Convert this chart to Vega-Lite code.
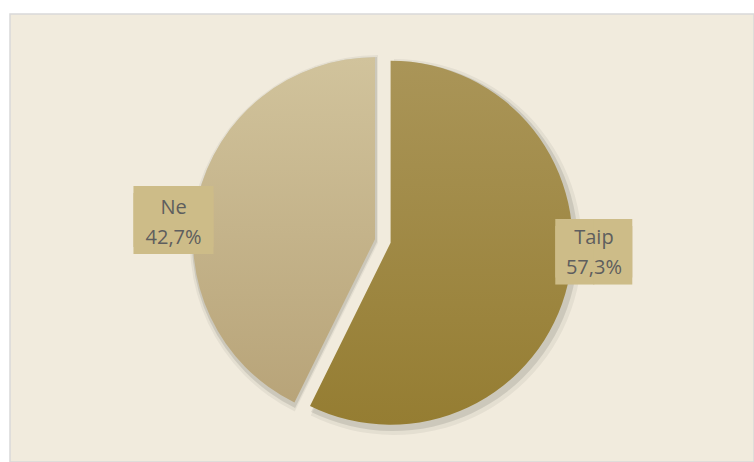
{
  "$schema": "https://vega.github.io/schema/vega-lite/v6.json",
  "width": 744,
  "height": 448,
  "autosize": {"type": "none"},
  "padding": {"left": 10, "top": 14, "right": 0, "bottom": 0},
  "background": "white",
  "view": {"fill": "#F1EBDD", "stroke": "#D9D9D9", "strokeWidth": 1.5},
  "data": {
    "values": [
      {"category": "Taip", "value": 57.3, "label": "Taip\n57,3%"},
      {"category": "Ne", "value": 42.7, "label": "Ne\n42,7%"}
    ]
  },
  "encoding": {
    "theta": {"field": "value", "type": "quantitative", "stack": true},
    "order": {"field": "value", "type": "quantitative", "sort": "descending"}
  },
  "layer": [
    {
      "mark": {"type": "arc", "outerRadius": 188, "xOffset": 12, "yOffset": 9, "fill": "#000000"},
      "encoding": {"opacity": {"condition": {"test": "datum.category === 'Taip'", "value": 0.05}, "value": 0}}
    },
    {
      "mark": {"type": "arc", "outerRadius": 185, "xOffset": 11, "yOffset": 8, "fill": "#000000"},
      "encoding": {"opacity": {"condition": {"test": "datum.category === 'Taip'", "value": 0.1}, "value": 0}}
    },
    {
      "mark": {"type": "arc", "outerRadius": 188, "xOffset": -4, "yOffset": 5, "fill": "#000000"},
      "encoding": {"opacity": {"condition": {"test": "datum.category === 'Ne'", "value": 0.05}, "value": 0}}
    },
    {
      "mark": {"type": "arc", "outerRadius": 185, "xOffset": -5, "yOffset": 4, "fill": "#000000"},
      "encoding": {"opacity": {"condition": {"test": "datum.category === 'Ne'", "value": 0.1}, "value": 0}}
    },
    {
      "mark": {
        "type": "arc", "outerRadius": 182, "xOffset": -7, "yOffset": 1.3,
        "fill": {"gradient": "linear", "x1": 0, "y1": 0, "x2": 0, "y2": 1,
          "stops": [{"offset": 0, "color": "#D1C39C"}, {"offset": 1, "color": "#B8A479"}]}
      },
      "encoding": {"opacity": {"condition": {"test": "datum.category === 'Ne'", "value": 1}, "value": 0}}
    },
    {
      "mark": {
        "type": "arc", "outerRadius": 182, "xOffset": 8.6, "yOffset": 4.7,
        "fill": {"gradient": "linear", "x1": 0, "y1": 0, "x2": 0, "y2": 1,
          "stops": [{"offset": 0, "color": "#AA9558"}, {"offset": 1, "color": "#957D32"}]}
      },
      "encoding": {"opacity": {"condition": {"test": "datum.category === 'Taip'", "value": 1}, "value": 0}}
    },
    {
      "mark": {"type": "text", "radius": 205, "xOffset": 12.3, "yOffset": -34.9, "font": "DejaVu Sans", "fontSize": 49.4, "lineHeight": 7.7, "align": "center", "baseline": "middle", "color": "#CDBC88"},
      "encoding": {
        "text": {"value": ["██", "██"]},
        "opacity": {"condition": {"test": "datum.category === 'Taip'", "value": 1}, "value": 0}
      }
    },
    {
      "mark": {"type": "text", "radius": 205, "xOffset": -8.8, "yOffset": 27.8, "font": "DejaVu Sans", "fontSize": 51.3, "lineHeight": 6.5, "align": "center", "baseline": "middle", "color": "#CDBC88"},
      "encoding": {
        "text": {"value": ["██", "██"]},
        "opacity": {"condition": {"test": "datum.category === 'Ne'", "value": 1}, "value": 0}
      }
    },
    {
      "mark": {"type": "text", "radius": 205, "xOffset": 12.3, "yOffset": -46.5, "font": "Open Sans", "fontSize": 20, "lineHeight": 30, "lineBreak": "\n", "align": "center", "baseline": "middle", "color": "#5E5E5E"},
      "encoding": {
        "text": {"field": "label", "type": "nominal"},
        "opacity": {"condition": {"test": "datum.category === 'Taip'", "value": 1}, "value": 0}
      }
    },
    {
      "mark": {"type": "text", "radius": 205, "xOffset": -8.8, "yOffset": 17, "font": "Open Sans", "fontSize": 20, "lineHeight": 30, "lineBreak": "\n", "align": "center", "baseline": "middle", "color": "#5E5E5E"},
      "encoding": {
        "text": {"field": "label", "type": "nominal"},
        "opacity": {"condition": {"test": "datum.category === 'Ne'", "value": 1}, "value": 0}
      }
    }
  ]
}
